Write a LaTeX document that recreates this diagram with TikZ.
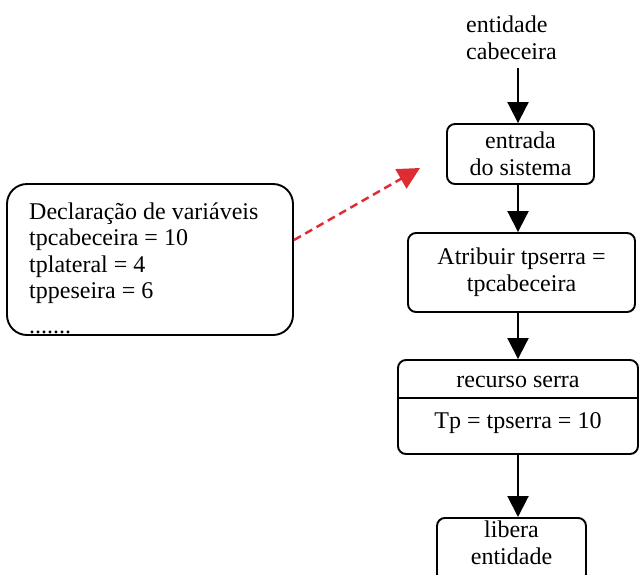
\documentclass[tikz,border=0pt]{standalone}
\usepackage{fontspec}
\setmainfont{Liberation Serif}
\usetikzlibrary{arrows.meta}
\definecolor{arrowred}{RGB}{222,45,50}
\begin{document}
\begin{tikzpicture}[x=1pt,y=-1pt,
  every node/.style={font=\fontsize{24}{27}\selectfont},
  procbox/.style={draw, line width=1.9pt, rounded corners=8pt, align=center, inner sep=0pt},
  declbox/.style={draw, line width=1.9pt, rounded corners=20pt, inner sep=0pt},
  plain/.style={inner sep=0pt},
  flow/.style={line width=2pt, -{Triangle[length=21pt,width=21pt]}},
  hint/.style={draw=arrowred, line width=2.5pt, dash pattern=on 8pt off 5pt,
    -{Triangle[length=22pt,width=22pt]}}
]
\useasboundingbox (0,0) rectangle (639,574);

% main column of the flow
\coordinate (col) at (518,0);

\node[plain, anchor=west, align=left] (ent) at (466,37.4) {entidade\\cabeceira};
\node[procbox, minimum width=147pt, minimum height=60pt] (entr) at (520.5,154) {entrada\\do sistema};
\node[procbox, minimum width=227pt, minimum height=79pt] (attr) at (521.5,272.5) {Atribuir tpserra =\\tpcabeceira};

% resource box with a header part
\node[procbox, minimum width=240pt, minimum height=94pt] (rec) at (518,407) {};
\coordinate (recdiv) at (518,398);
\draw[line width=1.9pt] (rec.west |- recdiv) -- (rec.east |- recdiv);
\node[plain, anchor=base] (rectitle) at (518,387) {recurso serra};
\node[plain, anchor=base] (recval) at (518,428) {Tp = tpserra = 10};

% release box
\node[procbox, minimum width=149pt, minimum height=64pt, anchor=north] (lib) at (511.5,517) {};
\node[plain, align=center, anchor=north] (libtxt) at (511.5,520.6) {libera\\entidade};

% variable declarations
\node[declbox, minimum width=286pt, minimum height=151pt] (decl) at (150,259.5) {};
\node[plain, anchor=north west, align=left, font=\fontsize{24}{26.5}\selectfont] (decltxt) at (29,202.6)
  {Declaração de variáveis\\tpcabeceira = 10\\tplateral = 4\\tppeseira = 6\\[8.5pt].......};

% connectors
\draw[flow, shorten <=8pt] (ent.south -| col) -- (entr.north -| col);
\draw[flow] (entr.south -| col) -- (attr.north -| col);
\draw[flow] (attr.south -| col) -- (rec.north -| col);
\draw[flow] (rec.south -| col) -- (lib.north -| col);

\coordinate (hinttip) at (420,168);
\draw[hint] ([yshift=19.5pt]decl.east) -- (hinttip);
\end{tikzpicture}
\end{document}
